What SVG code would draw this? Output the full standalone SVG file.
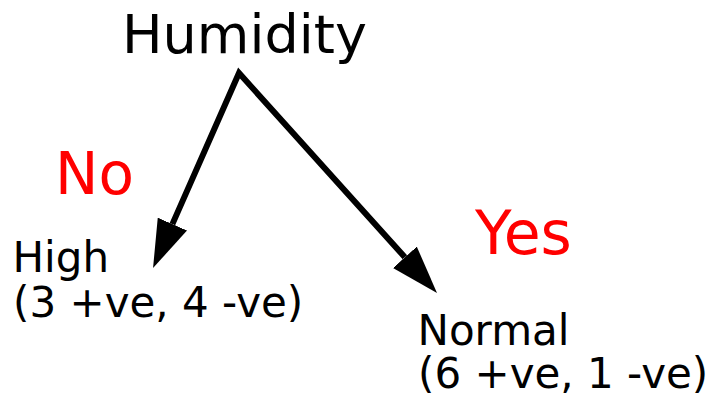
<svg xmlns="http://www.w3.org/2000/svg" width="708" height="397" viewBox="0 0 708 397">
  <defs>
    <style>
      text { font-family: "DejaVu Sans", "Liberation Sans", sans-serif; fill: #000; }
      .title { font-size: 54px; }
      .lbl { font-size: 42px; }
      .edge { font-size: 58px; fill: #ff0000; }
      .conn { fill: none; stroke: #000; stroke-width: 6; stroke-linejoin: miter; }
    </style>
    <marker id="arrow" markerUnits="userSpaceOnUse" viewBox="0 0 48 32" markerWidth="48" markerHeight="32" refX="0" refY="16" orient="auto-start-reverse">
      <path d="M0,0 L48,16 L0,32 z" fill="#000"/>
    </marker>
  </defs>
  <rect width="708" height="397" fill="#fff"/>
  <g id="connectors">
    <path class="conn" d="M172.4,224.1 L239,73 L404.9,257.3" marker-start="url(#arrow)" marker-end="url(#arrow)"/>
  </g>
  <g id="node-humidity">
    <text class="title" x="122" y="53">Humidity</text>
  </g>
  <g id="label-no">
    <text class="edge" x="55" y="194">No</text>
  </g>
  <g id="label-yes">
    <text class="edge" x="475" y="254" style="font-size:60px">Yes</text>
  </g>
  <g id="node-high">
    <text class="lbl" x="12.5" y="272">High</text>
    <text class="lbl" x="13" y="317">(3 +ve, 4 -ve)</text>
  </g>
  <g id="node-normal">
    <text class="lbl" x="417.5" y="345">Normal</text>
    <text class="lbl" x="418" y="388">(6 +ve, 1 -ve)</text>
  </g>
</svg>
